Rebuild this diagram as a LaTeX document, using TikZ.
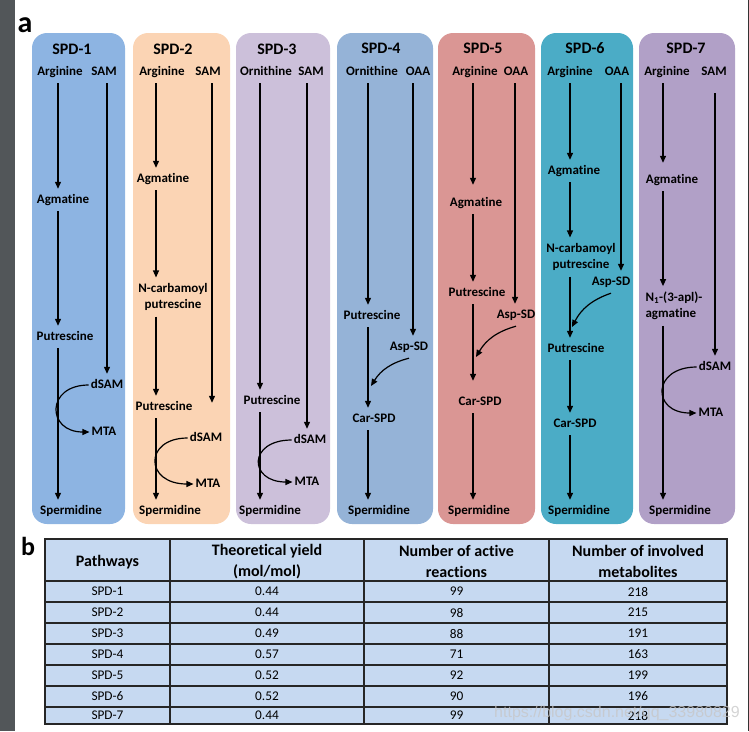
\documentclass[tikz,border=0pt]{standalone}
\usepackage{fontspec}
\setmainfont{Carlito}[Ligatures=NoCommon]
\newfontfamily\markfont{Liberation Sans}
\usetikzlibrary{arrows.meta}
\definecolor{PanelA}{RGB}{141,180,226}
\definecolor{PanelB}{RGB}{251,212,180}
\definecolor{PanelC}{RGB}{204,192,218}
\definecolor{PanelD}{RGB}{149,179,215}
\definecolor{PanelE}{RGB}{218,150,148}
\definecolor{PanelF}{RGB}{75,172,198}
\definecolor{PanelG}{RGB}{177,160,199}
\definecolor{TabFill}{RGB}{198,217,241}
\definecolor{SideGrey}{RGB}{82,86,89}
\begin{document}
\begin{tikzpicture}[
        x=1pt, y=-1pt,
        Panel/.style={rounded corners=15pt},
        Title/.style={font=\bfseries\fontsize{16}{18}\selectfont, inner sep=0pt},
        Mol/.style={font=\bfseries\fontsize{13}{15}\selectfont, inner xsep=2pt, inner ysep=5pt, text height=9pt, text depth=3pt},
        MolTwo/.style={font=\bfseries\fontsize{13}{15.5}\selectfont, inner xsep=2pt, inner ysep=6pt, align=center},
        RxnArrow/.style={-{Triangle[length=7pt, width=6pt]}, line width=1.2pt},
        TabLine/.style={draw=black!85, line width=1.6pt},
        Head/.style={font=\bfseries\fontsize{16}{21}\selectfont, align=center},
        Cell/.style={font=\fontsize{13.3}{15}\selectfont},
        ]
    \useasboundingbox (0,0) rectangle (749,731);
    \fill[SideGrey] (0,0) rectangle (15,731);
    \fill[black!80] (747.5,0) rectangle (749,731);
    \node[font=\bfseries\fontsize{30}{30}\selectfont] (lbla) at (25,25) {a};
    \node[font=\bfseries\fontsize{26}{26}\selectfont] (lblb) at (28,546) {b};

    \fill[PanelA, Panel] (32,33) rectangle (125,524);
    \fill[PanelB, Panel] (133,33) rectangle (230,524);
    \fill[PanelC, Panel] (236,33) rectangle (330,524);
    \fill[PanelD, Panel] (337,33) rectangle (433,524);
    \fill[PanelE, Panel] (438,33) rectangle (535,524);
    \fill[PanelF, Panel] (541,33) rectangle (633,524);
    \fill[PanelG, Panel] (639,33) rectangle (735,524);

    \coordinate (L1) at (58,0);  \coordinate (R1) at (107,0);
    \coordinate (L2) at (156,0); \coordinate (R2) at (212,0);
    \coordinate (L3) at (260,0); \coordinate (R3) at (307,0);
    \coordinate (L4) at (368,0); \coordinate (R4) at (413,0);
    \coordinate (L5) at (473,0); \coordinate (R5) at (515,0);
    \coordinate (L6) at (570,0); \coordinate (R6) at (621,0);
    \coordinate (L7) at (663,0); \coordinate (R7) at (715,0);

    \node[Title] (t1) at (72,49) {SPD-1};
    \node[Mol] (arg1) at (60,72) {Arginine};
    \node[Mol] (sam1) at (104,72) {SAM};
    \node[Mol] (agm1) at (63,200) {Agmatine};
    \node[Mol] (put1) at (65,337) {Putrescine};
    \node[Mol] (dsam1) at (107,385) {dSAM};
    \node[Mol] (mta1) at (104,432) {MTA};
    \node[Mol] (spd1) at (71,511) {Spermidine};
    \draw[RxnArrow] (arg1.south -| L1) -- (agm1.north -| L1);
    \draw[RxnArrow] (agm1.south -| L1) -- (put1.north -| L1);
    \draw[RxnArrow] (put1.south -| L1) -- (spd1.north -| L1);
    \draw[RxnArrow] (sam1.south -| R1) -- (dsam1.north -| R1);
    \draw[RxnArrow] (dsam1.west) .. controls +(-43,0) and +(-43,0) .. (mta1.west);

    \node[Title] (t2) at (173,49) {SPD-2};
    \node[Mol] (arg2) at (162,72) {Arginine};
    \node[Mol] (sam2) at (208,72) {SAM};
    \node[Mol] (agm2) at (163,179) {Agmatine};
    \node[MolTwo] (ncp2) at (173,297) {N-carbamoyl\\putrescine};
    \node[Mol] (put2) at (164,407) {Putrescine};
    \node[Mol] (dsam2) at (206,438) {dSAM};
    \node[Mol] (mta2) at (208,484) {MTA};
    \node[Mol] (spd2) at (170,511) {Spermidine};
    \draw[RxnArrow] (arg2.south -| L2) -- (agm2.north -| L2);
    \draw[RxnArrow] (agm2.south -| L2) -- (ncp2.north -| L2);
    \draw[RxnArrow] (ncp2.south -| L2) -- (put2.north -| L2);
    \draw[RxnArrow] (put2.south -| L2) -- (spd2.north -| L2);
    \draw[RxnArrow, shorten >=24pt] (sam2.south -| R2) -- (dsam2.north -| R2);
    \draw[RxnArrow] (dsam2.west) .. controls +(-44,0) and +(-49,0) .. (mta2.west);

    \node[Title] (t3) at (277,49) {SPD-3};
    \node[Mol] (orn3) at (266,72) {Ornithine};
    \node[Mol] (sam3) at (311,72) {SAM};
    \node[Mol] (put3) at (272,401) {Putrescine};
    \node[Mol] (dsam3) at (310,440) {dSAM};
    \node[Mol] (mta3) at (307,482) {MTA};
    \node[Mol] (spd3) at (270,511) {Spermidine};
    \draw[RxnArrow] (orn3.south -| L3) -- (put3.north -| L3);
    \draw[RxnArrow] (put3.south -| L3) -- (spd3.north -| L3);
    \draw[RxnArrow] (sam3.south -| R3) -- (dsam3.north -| R3);
    \draw[RxnArrow] (dsam3.west) .. controls +(-44,0) and +(-44,0) .. (mta3.west);

    \node[Title] (t4) at (381,48) {SPD-4};
    \node[Mol] (orn4) at (372,72) {Ornithine};
    \node[Mol] (oaa4) at (418,72) {OAA};
    \node[Mol] (put4) at (372,316) {Putrescine};
    \node[Mol] (asp4) at (409,347) {Asp-SD};
    \node[Mol] (car4) at (374,419) {Car-SPD};
    \node[Mol] (spd4) at (379,511) {Spermidine};
    \coordinate (j4) at (371,386);
    \draw[RxnArrow] (orn4.south -| L4) -- (put4.north -| L4);
    \draw[RxnArrow] (put4.south -| L4) -- (car4.north -| L4);
    \draw[RxnArrow] (car4.south -| L4) -- (spd4.north -| L4);
    \draw[RxnArrow] (oaa4.south -| R4) -- (asp4.north -| R4);
    \draw[RxnArrow] (asp4.south) to[bend right=22] (j4);

    \node[Title] (t5) at (483,48) {SPD-5};
    \node[Mol] (arg5) at (475,72) {Arginine};
    \node[Mol] (oaa5) at (516,72) {OAA};
    \node[Mol] (agm5) at (476,203) {Agmatine};
    \node[Mol] (put5) at (477,293) {Putrescine};
    \node[Mol] (asp5) at (516,315) {Asp-SD};
    \node[Mol] (car5) at (480,402) {Car-SPD};
    \node[Mol] (spd5) at (479,511) {Spermidine};
    \coordinate (j5) at (476,357);
    \draw[RxnArrow, shorten >=7pt] (arg5.south -| L5) -- (agm5.north -| L5);
    \draw[RxnArrow] (agm5.south -| L5) -- (put5.north -| L5);
    \draw[RxnArrow, shorten >=10pt] (put5.south -| L5) -- (car5.north -| L5);
    \draw[RxnArrow] (car5.south -| L5) -- (spd5.north -| L5);
    \draw[RxnArrow] (oaa5.south -| R5) -- (asp5.north -| R5);
    \draw[RxnArrow] (asp5.south) to[bend right=22] (j5);

    \node[Title] (t6) at (585,48) {SPD-6};
    \node[Mol] (arg6) at (570,72) {Arginine};
    \node[Mol] (oaa6) at (617,72) {OAA};
    \node[Mol] (agm6) at (574,171) {Agmatine};
    \node[MolTwo] (ncp6) at (581,257) {N-carbamoyl\\putrescine};
    \node[Mol] (asp6) at (611,282) {Asp-SD};
    \node[Mol] (put6) at (576,349) {Putrescine};
    \node[Mol] (car6) at (575,424) {Car-SPD};
    \node[Mol] (spd6) at (579,511) {Spermidine};
    \coordinate (j6) at (572,327);
    \draw[RxnArrow] (arg6.south -| L6) -- (agm6.north -| L6);
    \draw[RxnArrow] (agm6.south -| L6) -- (ncp6.north -| L6);
    \draw[RxnArrow] (ncp6.south -| L6) -- (put6.north -| L6);
    \draw[RxnArrow] (put6.south -| L6) -- (car6.north -| L6);
    \draw[RxnArrow] (car6.south -| L6) -- (spd6.north -| L6);
    \draw[RxnArrow] (oaa6.south -| R6) -- (asp6.north -| R6);
    \draw[RxnArrow] (asp6.south) to[bend right=22] (j6);

    \node[Title] (t7) at (686,48) {SPD-7};
    \node[Mol] (arg7) at (667,72) {Arginine};
    \node[Mol] (sam7) at (714,72) {SAM};
    \node[Mol] (agm7) at (672,180) {Agmatine};
    \node[MolTwo, align=left] (apl7) at (674,306) {N\textsubscript{1}-(3-apl)-\\agmatine};
    \node[Mol] (dsam7) at (715,367) {dSAM};
    \node[Mol] (mta7) at (711,413) {MTA};
    \node[Mol] (spd7) at (680,511) {Spermidine};
    \draw[RxnArrow, shorten >=6pt] (arg7.south -| L7) -- (agm7.north -| L7);
    \draw[RxnArrow] (agm7.south -| L7) -- (apl7.north -| L7);
    \draw[RxnArrow] (apl7.south -| L7) -- (spd7.north -| L7);
    \draw[RxnArrow, shorten <=10pt] (sam7.south -| R7) -- (dsam7.north -| R7);
    \draw[RxnArrow] (dsam7.west) .. controls +(-45,0) and +(-45,0) .. (mta7.west);

    \fill[TabFill] (45,539) rectangle (727,724);
    \draw[TabLine] (45,539) rectangle (727,724);
    \draw[TabLine] (45,581) -- (727,581) (45,602) -- (727,602) (45,623) -- (727,623)
        (45,644) -- (727,644) (45,665) -- (727,665) (45,686) -- (727,686) (45,707) -- (727,707);
    \draw[TabLine] (170,539) -- (170,724) (364,539) -- (364,724) (549,539) -- (549,724);
    \node[Head] (h1) at (107.5,562) {Pathways};
    \node[Head] (h2) at (267,561.5) {Theoretical yield\\(mol/mol)};
    \node[Head] (h3) at (456.5,561.5) {Number of active\\reactions};
    \node[Head] (h4) at (638,561.5) {Number of involved\\metabolites};
    \node[Cell] (path1) at (107.5,591.5) {SPD-1}; \node[Cell] (yld1) at (267,591.5) {0.44}; \node[Cell] (rxn1) at (456.5,591.5) {99}; \node[Cell] (met1) at (638,591.5) {218};
    \node[Cell] (path2) at (107.5,612.5) {SPD-2}; \node[Cell] (yld2) at (267,612.5) {0.44}; \node[Cell] (rxn2) at (456.5,612.5) {98}; \node[Cell] (met2) at (638,612.5) {215};
    \node[Cell] (path3) at (107.5,633.5) {SPD-3}; \node[Cell] (yld3) at (267,633.5) {0.49}; \node[Cell] (rxn3) at (456.5,633.5) {88}; \node[Cell] (met3) at (638,633.5) {191};
    \node[Cell] (path4) at (107.5,654.5) {SPD-4}; \node[Cell] (yld4) at (267,654.5) {0.57}; \node[Cell] (rxn4) at (456.5,654.5) {71}; \node[Cell] (met4) at (638,654.5) {163};
    \node[Cell] (path5) at (107.5,675.5) {SPD-5}; \node[Cell] (yld5) at (267,675.5) {0.52}; \node[Cell] (rxn5) at (456.5,675.5) {92}; \node[Cell] (met5) at (638,675.5) {199};
    \node[Cell] (path6) at (107.5,696.5) {SPD-6}; \node[Cell] (yld6) at (267,696.5) {0.52}; \node[Cell] (rxn6) at (456.5,696.5) {90}; \node[Cell] (met6) at (638,696.5) {196};
    \node[Cell] (path7) at (107.5,715.5) {SPD-7}; \node[Cell] (yld7) at (267,715.5) {0.44}; \node[Cell] (rxn7) at (456.5,715.5) {99}; \node[Cell] (met7) at (638,715.5) {218};
    \node[font=\markfont\fontsize{16}{16}\selectfont, text=gray!45, opacity=0.75] (mark) at (617,713) {https://blog.csdn.net/qq\_33980829};
\end{tikzpicture}
\end{document}
